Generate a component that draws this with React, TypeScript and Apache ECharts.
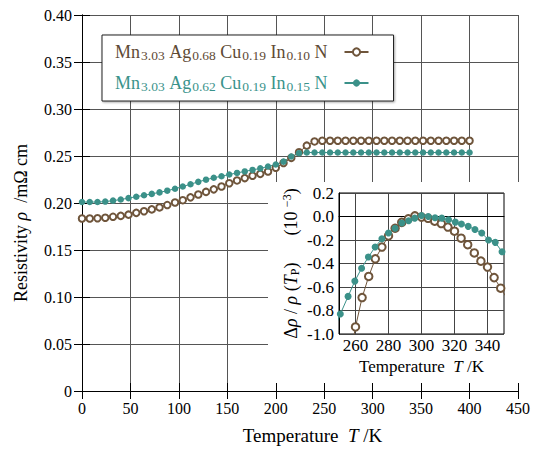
import React, { useEffect, useRef } from 'react';
import * as echarts from 'echarts';

const FONT = "'Liberation Serif', 'Times New Roman', serif";
const BROWN = '#6f553b';
const BROWN_TXT = '#5e4a35';
const TEAL = '#3b9189';
const TEAL_TXT = '#3a938b';

const S1 = 'Mn3.03Ag0.68Cu0.19In0.10N';
const S2 = 'Mn3.03Ag0.62Cu0.19In0.15N';
const legend1Parts = [['Mn', '3.03'], ['Ag', '0.68'], ['Cu', '0.19'], ['In', '0.10']];
const legend2Parts = [['Mn', '3.03'], ['Ag', '0.62'], ['Cu', '0.19'], ['In', '0.15']];

const mainT = [0, 8, 16, 24, 32, 40, 48, 56, 64, 72, 80, 88, 96, 104, 112, 120, 128, 136, 144, 152, 160, 168, 176, 184, 192, 200, 208, 216, 224, 232, 240, 248, 256, 264, 272, 280, 288, 296, 304, 312, 320, 328, 336, 344, 352, 360, 368, 376, 384, 392, 400];
const brownMain = [0.1835, 0.1835, 0.1838, 0.1843, 0.1853, 0.1863, 0.1876, 0.1895, 0.1912, 0.1932, 0.1953, 0.1978, 0.2005, 0.203, 0.206, 0.209, 0.2118, 0.2145, 0.2175, 0.221, 0.224, 0.2265, 0.229, 0.231, 0.2335, 0.2375, 0.2425, 0.248, 0.254, 0.261, 0.2655, 0.2662, 0.2662, 0.2662, 0.2662, 0.2662, 0.2662, 0.2662, 0.2662, 0.2662, 0.2662, 0.2662, 0.2662, 0.2662, 0.2662, 0.2662, 0.2662, 0.2662, 0.2662, 0.2662, 0.2662];
const tealMain = [0.201, 0.201, 0.201, 0.2015, 0.2025, 0.2037, 0.2052, 0.2067, 0.2082, 0.2097, 0.2113, 0.2131, 0.2152, 0.2175, 0.22, 0.2225, 0.2248, 0.2268, 0.2285, 0.2303, 0.232, 0.2336, 0.2352, 0.2368, 0.2388, 0.241, 0.244, 0.2495, 0.253, 0.2537, 0.2537, 0.2537, 0.2537, 0.2537, 0.2537, 0.2537, 0.2537, 0.2537, 0.2537, 0.2537, 0.2537, 0.2537, 0.2537, 0.2537, 0.2537, 0.2537, 0.2537, 0.2537, 0.2537, 0.2537, 0.2537];

const insetBrownT = [256, 260, 264, 268, 272, 276, 280, 284, 288, 292, 296, 300, 304, 308, 312, 316, 320, 324, 328, 332, 336, 340, 344, 348, 352];
const insetBrown = [-1.25, -0.94, -0.69, -0.51, -0.36, -0.26, -0.165, -0.1, -0.05, -0.02, 0.005, -0.005, -0.015, -0.04, -0.06, -0.09, -0.125, -0.185, -0.24, -0.31, -0.38, -0.43, -0.52, -0.61, -0.7];
const insetTealT = [246.7, 250.8, 255.5, 259.6, 263.7, 267.8, 271.9, 276, 280, 284, 288.1, 292.2, 295.9, 300, 304.1, 308.2, 312.3, 316.4, 320.5, 324.2, 328.3, 332.4, 336.5, 340.6, 344.7, 348.8, 352.9];
const insetTeal = [-0.98, -0.83, -0.68, -0.55, -0.44, -0.345, -0.26, -0.19, -0.14, -0.1, -0.056, -0.036, -0.014, 0.008, 0.0, -0.01, -0.014, -0.028, -0.048, -0.064, -0.084, -0.11, -0.14, -0.2, -0.22, -0.3, -0.36];

const insetXTicks = [260, 280, 300, 320, 340];

function richName(parts: string[][], p: string) {
  return parts.map(([e, s], i) => `{${p}m|${i ? ' ' : ''}${e}}{${p}s|${s}}`).join('') + `{${p}n| N}`;
}

const zip = (xs: number[], ys: number[]) => xs.map((x, i) => [x, ys[i]]);

export default function App() {
  const ref = useRef<HTMLDivElement>(null);
  useEffect(() => {
    if (!ref.current) return;
    const chart = echarts.init(ref.current, null, { renderer: 'svg' });
    const axisBlack = { lineStyle: { color: '#000', width: 1 } };
    const mainX = { type: 'value', gridIndex: 0, min: 0, max: 450, interval: 50 };
    const mainY = { type: 'value', gridIndex: 0, min: 0, max: 0.4, interval: 0.05 };
    const off = { show: false };
    const lab16 = { a: { fontFamily: FONT, fontSize: 16, color: '#000' } };
    const lab17 = { a: { fontFamily: FONT, fontSize: 17, color: '#000' } };
    const mainRich = {
      n: { fontFamily: FONT, fontSize: 19, color: '#000' },
      i: { fontFamily: FONT, fontSize: 19, color: '#000', fontStyle: 'italic' },
    };
    const legendRich: any = {};
    [['b', BROWN_TXT], ['t', TEAL_TXT]].forEach(([p, c]) => {
      legendRich[p + 'm'] = { fontFamily: FONT, fontSize: 18, color: c, lineHeight: 20 };
      legendRich[p + 's'] = { fontFamily: FONT, fontSize: 13.5, color: c, lineHeight: 14, verticalAlign: 'bottom', padding: [0, 0, 0, 1] };
      legendRich[p + 'n'] = { fontFamily: FONT, fontSize: 18, color: c, lineHeight: 20, padding: [0, 12, 0, 0] };
    });
    const option: any = {
      animation: false,
      backgroundColor: '#fff',
      textStyle: { fontFamily: FONT },
      grid: [
        { left: 82, right: 12, top: 15, bottom: 55 },
        { left: 339, top: 193, width: 165, height: 141, show: true, borderColor: '#000', borderWidth: 1, backgroundColor: 'transparent', z: 3 },
      ],
      graphic: [
        { type: 'rect', z: 1, shape: { x: 268, y: 182, width: 253, height: 213 }, style: { fill: '#fff' } },
      ],
      legend: {
        orient: 'vertical', left: 102, top: 35, align: 'right',
        itemWidth: 24, itemHeight: 9, itemGap: 12,
        padding: [8, 24, 8, 13],
        backgroundColor: '#fff', borderColor: '#222', borderWidth: 1,
        shadowColor: 'rgba(0,0,0,0.35)', shadowBlur: 2, shadowOffsetX: 1, shadowOffsetY: 1,
        data: [S1, S2],
        formatter: (name: string) => (name === S1 ? richName(legend1Parts, 'b') : richName(legend2Parts, 't')),
        textStyle: { fontFamily: FONT, fontSize: 18, rich: legendRich },
      },
      xAxis: [
        {
          ...mainX, position: 'bottom', z: 3,
          axisLine: { show: true, ...axisBlack },
          axisTick: { show: true, inside: true, length: 8, ...axisBlack },
          axisLabel: {
            show: true, color: '#000', fontFamily: FONT, fontSize: 16, margin: 9, rich: lab16,
            formatter: (v: number) => `{a|${Math.round(v)}}`,
          },
          splitLine: off,
          name: '{n|Temperature  }{i|T}{n| /K}', nameLocation: 'middle', nameGap: 35,
          nameTextStyle: { rich: mainRich, padding: [0, 0, 0, 25] },
        },
        {
          ...mainX, position: 'top', z: 3,
          axisLine: { show: true, ...axisBlack },
          axisTick: { show: true, inside: true, length: 8, ...axisBlack },
          axisLabel: off, splitLine: off,
        },
        {
          ...mainX, z: 0, axisLine: off, axisTick: off, axisLabel: off,
          splitLine: { show: true, lineStyle: { color: '#555', width: 1 } },
        },
        {
          type: 'value', gridIndex: 1, min: 250, max: 350, z: 3,
          axisLine: { show: true, ...axisBlack },
          axisTick: { show: false, customValues: insetXTicks },
          axisLabel: {
            show: true, customValues: insetXTicks, color: '#000', fontFamily: FONT, fontSize: 17, margin: 3, rich: lab17,
            formatter: (v: number) => `{a|${Math.round(v)}}`,
          },
          splitLine: { show: true, lineStyle: { color: '#444', width: 1 } },
          name: '{n|Temperature  }{i|T}{n| /K}', nameLocation: 'middle', nameGap: 24,
          nameTextStyle: {
            rich: {
              n: { fontFamily: FONT, fontSize: 17, color: '#000' },
              i: { fontFamily: FONT, fontSize: 17, color: '#000', fontStyle: 'italic' },
            },
          },
        },
      ],
      yAxis: [
        {
          ...mainY, position: 'left', z: 3,
          axisLine: { show: true, ...axisBlack },
          axisTick: { show: true, inside: true, length: 8, ...axisBlack },
          axisLabel: {
            show: true, color: '#000', fontFamily: FONT, fontSize: 16, margin: 10, rich: lab16,
            formatter: (v: number) => `{a|${Math.abs(v) < 1e-9 ? '0' : v.toFixed(2)}}`,
          },
          splitLine: off,
          name: '{n|Resistivity}{i| ρ }{n| /mΩ cm}', nameLocation: 'middle', nameGap: 52,
          nameTextStyle: {
            rich: {
              n: { fontFamily: FONT, fontSize: 18, color: '#000' },
              i: { fontFamily: FONT, fontSize: 18, color: '#000', fontStyle: 'italic' },
            },
            padding: [0, 40, 0, 0],
          },
        },
        {
          ...mainY, position: 'right', z: 3,
          axisLine: { show: true, ...axisBlack },
          axisTick: { show: true, inside: true, length: 8, ...axisBlack },
          axisLabel: off, splitLine: off,
        },
        {
          ...mainY, z: 0, axisLine: off, axisTick: off, axisLabel: off,
          splitLine: { show: true, lineStyle: { color: '#555', width: 1 } },
        },
        {
          type: 'value', gridIndex: 1, min: -1.0, max: 0.2, interval: 0.2, z: 3,
          axisLine: { show: true, ...axisBlack },
          axisTick: off,
          axisLabel: {
            show: true, color: '#000', fontFamily: FONT, fontSize: 17, margin: 5, rich: lab17,
            formatter: (v: number) => `{a|${Math.abs(v) < 1e-9 ? '0.0' : v.toFixed(1)}}`,
          },
          splitLine: { show: true, lineStyle: { color: '#444', width: 1 } },
          name: '{n|Δ}{i|ρ}{n| / }{i|ρ}{n| (}{i|T}{s|P}{n|)      (10 }{p|−3}{n|)}',
          nameLocation: 'middle', nameGap: 38,
          nameTextStyle: {
            rich: {
              n: { fontFamily: FONT, fontSize: 18, color: '#000', lineHeight: 20 },
              i: { fontFamily: FONT, fontSize: 18, color: '#000', fontStyle: 'italic', lineHeight: 20 },
              s: { fontFamily: FONT, fontSize: 12, color: '#000', lineHeight: 12, verticalAlign: 'bottom' },
              p: { fontFamily: FONT, fontSize: 12, color: '#000', lineHeight: 12, verticalAlign: 'top' },
            },
          },
        },
      ],
      series: [
        {
          name: S1, type: 'line', xAxisIndex: 0, yAxisIndex: 0,
          data: zip(mainT, brownMain),
          symbol: 'emptyCircle', symbolSize: 6.5,
          itemStyle: { color: BROWN, borderWidth: 1 },
          lineStyle: { color: BROWN, width: 1 },
        },
        {
          name: S2, type: 'line', xAxisIndex: 0, yAxisIndex: 0,
          data: zip(mainT, tealMain),
          symbol: 'circle', symbolSize: 6.5,
          itemStyle: { color: TEAL },
          lineStyle: { color: TEAL, width: 1 },
        },
        {
          name: 'insetBrown', type: 'line', xAxisIndex: 3, yAxisIndex: 3, z: 4,
          data: zip(insetBrownT, insetBrown),
          symbol: 'emptyCircle', symbolSize: 7.5, clip: true,
          itemStyle: { color: BROWN, borderWidth: 1 },
          lineStyle: { color: BROWN, width: 1 },
        },
        {
          name: 'insetTeal', type: 'line', xAxisIndex: 3, yAxisIndex: 3, z: 4,
          data: zip(insetTealT, insetTeal),
          symbol: 'circle', symbolSize: 7, clip: true,
          itemStyle: { color: TEAL },
          lineStyle: { color: TEAL, width: 1 },
        },
      ],
    };
    chart.setOption(option);
    return () => chart.dispose();
  }, []);
  return <div ref={ref} style={{ position: 'fixed', left: 0, top: 0, width: 533, height: 450 }} />;
}
